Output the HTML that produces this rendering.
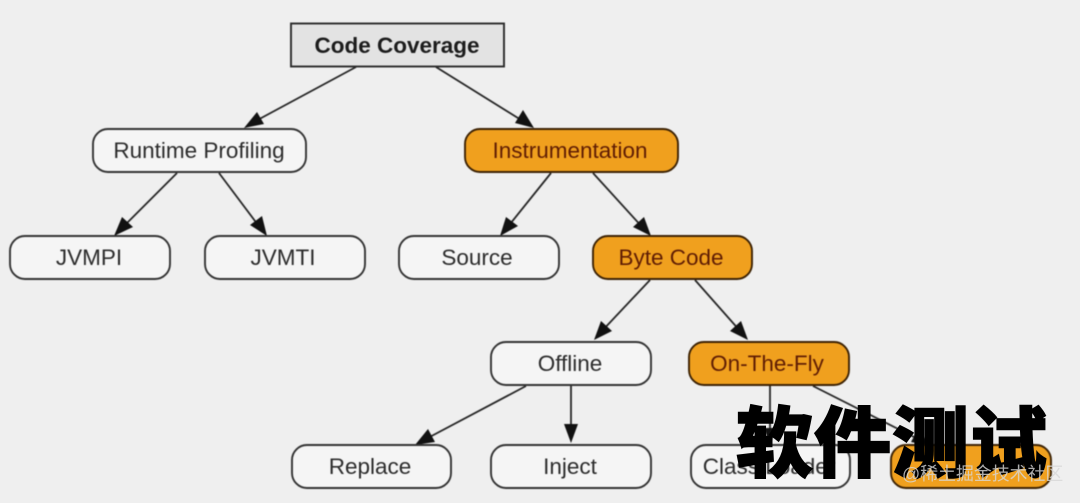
<!DOCTYPE html>
<html>
<head>
<meta charset="utf-8">
<style>
html,body{margin:0;padding:0;background:#efefef;width:1080px;height:503px;overflow:hidden}
svg{display:block;filter:blur(.6px)}
text{font-family:"Liberation Sans",sans-serif;font-size:22.5px;text-anchor:middle;fill:#2c2c2c}
.n{fill:#f5f5f5;stroke:#333;stroke-width:1.9}
.o{fill:#f0a01e;stroke:#3c2204;stroke-width:1.9}
.ot{fill:#5f1d04}
.l{stroke:#262626;stroke-width:1.8;fill:none}
.a{fill:#111}
#wm{position:absolute;left:736px;top:389px;width:320px;font-family:"Noto Sans CJK SC",sans-serif;font-weight:900;font-size:77px;line-height:100px;letter-spacing:1px;color:#000;-webkit-text-stroke:1.5px #000;white-space:nowrap}
#jj{position:absolute;left:902px;top:462px;font-family:"Liberation Sans","Noto Sans CJK SC",sans-serif;font-size:17.9px;line-height:24px;color:rgba(215,215,215,.8);white-space:nowrap}
</style>
</head>
<body>
<svg width="1080" height="503" viewBox="0 0 1080 503" xmlns="http://www.w3.org/2000/svg">
<line class="l" x1="356" y1="67" x2="252" y2="123"/><polygon class="a" points="244,128 257,112 264,124"/>
<line class="l" x1="436" y1="67" x2="526" y2="123"/><polygon class="a" points="534,128 515,123 523,110"/>
<line class="l" x1="177" y1="173" x2="121" y2="229"/><polygon class="a" points="114,236 122,217 133,227"/>
<line class="l" x1="219" y1="173" x2="261" y2="229"/><polygon class="a" points="267,236 250,225 262,216"/>
<line class="l" x1="551" y1="173" x2="506" y2="229"/><polygon class="a" points="500,236 506,217 518,226"/>
<line class="l" x1="593" y1="173" x2="644" y2="229"/><polygon class="a" points="651,236 633,227 644,217"/>
<line class="l" x1="650" y1="280" x2="601" y2="332"/><polygon class="a" points="594,340 601,321 612,331"/>
<line class="l" x1="695" y1="280" x2="741" y2="332"/><polygon class="a" points="748,340 730,331 741,321"/>
<line class="l" x1="526" y1="386" x2="424" y2="440"/><polygon class="a" points="415,445 428,429 435,442"/>
<line class="l" x1="571" y1="386" x2="571" y2="432"/><polygon class="a" points="571,443 564,424 578,424"/>
<line class="l" x1="770" y1="386" x2="770" y2="435"/><polygon class="a" points="770,445 764,428 776,428"/>
<line class="l" x1="813" y1="386" x2="920" y2="440"/><polygon class="a" points="930,446 911,442 918,429"/>

<rect x="291" y="23.500" width="213" height="43" fill="#e3e3e3" stroke="#2a2a2a" stroke-width="1.9"/>
<text x="397" y="53" style="font-weight:700;fill:#1c1c1c">Code Coverage</text>

<rect class="n" x="93" y="129" width="213" height="43" rx="15"/><text x="199" y="158">Runtime Profiling</text>
<rect class="o" x="465" y="129" width="213" height="43" rx="15"/><text class="ot" x="570" y="158">Instrumentation</text>

<rect class="n" x="10" y="236" width="160" height="43" rx="15"/><text x="89" y="265">JVMPI</text>
<rect class="n" x="205" y="236" width="160" height="43" rx="15"/><text x="283" y="265">JVMTI</text>
<rect class="n" x="399" y="236" width="160" height="43" rx="15"/><text x="477" y="265">Source</text>
<rect class="o" x="593" y="236" width="159" height="43" rx="15"/><text class="ot" x="671" y="265">Byte Code</text>

<rect class="n" x="491" y="342" width="160" height="43" rx="15"/><text x="570" y="371">Offline</text>
<rect class="o" x="689" y="342" width="160" height="43" rx="15"/><text class="ot" x="767" y="371">On-The-Fly</text>

<rect class="n" x="292" y="445" width="159" height="43" rx="15"/><text x="370" y="474">Replace</text>
<rect class="n" x="491" y="445" width="160" height="43" rx="15"/><text x="570" y="474">Inject</text>
<rect class="n" x="691" y="445" width="159" height="43" rx="15"/><text x="769" y="474">Class Loader</text>
<rect class="o" x="891" y="445" width="160" height="43" rx="15"/>
</svg>
<div id="wm">软件测试</div>
<div id="jj">@稀土掘金技术社区</div>
</body>
</html>
